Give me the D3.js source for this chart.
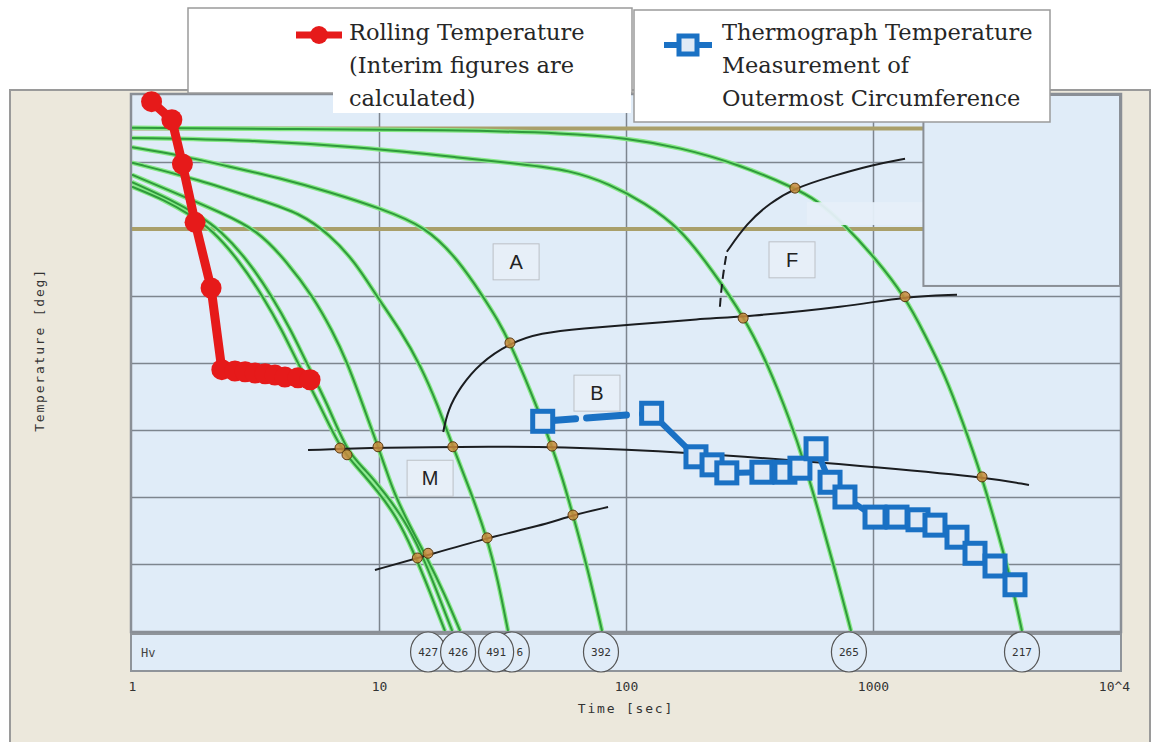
<!DOCTYPE html>
<html>
<head>
<meta charset="utf-8">
<script src="https://cdn.jsdelivr.net/npm/d3@7"></script>
<style>
  body { margin: 0; background: #fff; }
</style>
</head>
<body>
<div id="chart"></div>
<script>
// CCT diagram with rolling / thermograph temperatures

const width = 1159;
const height = 742;

// ---- data (time in sec, temperature in deg) ----
const timeTicks = [1, 10, 100, 1000, 10000];
const timeTickLabels = ["1", "10", "100", "1000", "10^4"];
const tempGrid = [100, 200, 300, 400, 500, 600, 700];
const acTemps = [750, 600];

const rollTime = [1.2, 1.45, 1.6, 1.8, 2.09, 2.31, 2.61, 2.87, 3.15, 3.46, 3.79, 4.16, 4.7, 5.26];
const rollTemp = [790, 763, 697, 610, 512, 390, 388, 387, 385, 384, 382, 379, 378, 375];

const thermoTime = [46, 127, 192, 223, 256, 355, 440, 506, 588, 670, 770, 1019, 1251, 1521, 1782, 2188, 2588, 3119, 3757];
const thermoTemp = [313, 325, 260, 248, 236, 237, 237, 243, 272, 222, 200, 170, 170, 166, 158, 140, 116, 97, 69];

const cool1Time = [1, 1.36, 1.72, 2.11, 2.74, 3.39, 4.05, 4.66, 5.77, 6.95, 8.22, 9.91, 11.8, 13.7, 16.1, 18.5];
const cool1Temp = [663, 643, 621, 599, 551, 499, 449, 402, 337, 273, 243, 208, 170, 121, 58, 0];
const cool2Time = [1, 1.45, 1.85, 2.27, 2.98, 3.69, 4.40, 5.06, 6.22, 7.42, 8.86, 10.6, 12.6, 14.8, 17.2, 19.8];
const cool2Temp = [670, 643, 621, 599, 551, 499, 449, 402, 337, 267, 240, 205, 167, 118, 58, 0];
const cool3Time = [1, 1.56, 2.27, 3.21, 4.24, 5.41, 6.45, 7.42, 8.61, 9.91, 10.7, 11.5, 13.4, 15.6, 18.5, 21.3];
const cool3Temp = [681, 651, 625, 599, 551, 499, 449, 402, 337, 275, 240, 206, 155, 110, 54, 0];
const cool4Time = [1, 1.89, 3.30, 4.79, 6.34, 7.99, 9.82, 12.2, 14.7, 17.3, 19.9, 23.4, 27.4, 30.3, 33.3];
const cool4Temp = [699, 673, 643, 624, 591, 551, 499, 449, 397, 337, 275, 210, 139, 76, 0];
const cool5Time = [1, 1.56, 2.49, 3.97, 6.34, 10.1, 15.6, 20.9, 26.4, 30.3, 33.9, 40.9, 50.2, 55.6, 61.0, 70.2, 80.0];
const cool5Temp = [722, 710, 693, 676, 655, 631, 603, 554, 499, 464, 430, 360, 276, 225, 173, 91, 0];
const cool6Time = [1, 3.0, 8.6, 21.9, 37.2, 59.4, 86, 119, 165, 223, 303, 376, 461, 531, 599, 702, 815];
const cool6Temp = [736, 733, 722, 706, 697, 688, 667, 639, 602, 539, 467, 397, 315, 248, 181, 91, 0];
const cool7Time = [1, 4.8, 19.4, 59, 99, 165, 289, 483, 593, 756, 1019, 1348, 1624, 1956, 2293, 2763, 3268, 3654, 4011];
const cool7Temp = [751, 749, 748, 743, 736, 722, 696, 661, 643, 609, 557, 499, 442, 382, 315, 230, 136, 69, 0];

// transformation lines
const msTime = [5.16, 10, 30.9, 50.2, 165, 1019, 2763, 4281];
const msTemp = [270, 274, 275, 275, 268, 245, 230, 218];
const bfTime = [9.63, 14.7, 27.4, 44.9, 61.0, 84.6];
const bfTemp = [91, 110, 139, 157, 173, 185];
const bsTime = [18.2, 19.0, 21.3, 25.6, 33.9, 44.9, 67, 107, 199, 303, 785, 1348, 2188];
const bsTemp = [297, 330, 364, 400, 430, 445, 452, 457, 466, 469, 484, 499, 502];
const fsDashTime = [240, 245, 256];
const fsDashTemp = [484, 524, 566];
const fsTime = [256, 309, 383, 483, 670, 1000, 1348];
const fsTemp = [566, 609, 639, 661, 678, 696, 705];

const markTime = [6.95, 7.42, 9.91, 19.9, 50.2, 2763, 14.3, 15.8, 27.4, 61.0, 33.9, 298, 1348, 483];
const markTemp = [273, 263, 275, 275, 276, 230, 109, 116, 139, 173, 430, 467, 499, 661];

const regionNames = ["A", "B", "M", "F"];
const regionTime = [35.9, 76.3, 16.1, 470];
const regionTemp = [551, 355, 228, 554];

// Hv values; the one behind "491" only shows its last digit
const hvValues = ["427", "426", "6", "491", "392", "265", "217"];
const hvTime = [15.8, 20.9, 34.5, 29.8, 79.2, 799, 4011];

// ---- scales ----
const x = d3.scaleLog().domain([1, 10000]).range([132, 1120]);
const y = d3.scaleLinear().domain([0, 800]).range([631, 95]);
const zip = (a, b) => a.map((v, i) => [v, b[i]]);

const svg = d3.select("#chart")
  .append("svg")
  .attr("width", width)
  .attr("height", height)
  .style("font-family", "DejaVu Sans Mono");

// outer beige frame
svg.append("rect")
  .attr("x", 10).attr("y", 90)
  .attr("width", 1140).attr("height", 670)
  .attr("fill", "#ece8dc")
  .attr("stroke", "#9a9a9a").attr("stroke-width", 2);

// plot background
svg.append("rect")
  .attr("x", x(1) - 1).attr("y", y(800) - 1)
  .attr("width", x(10000) - x(1) + 2).attr("height", y(0) - y(800) + 2)
  .attr("fill", "#e0ecf8")
  .attr("stroke", "#8a8f96").attr("stroke-width", 2.5);

svg.append("defs").append("clipPath").attr("id", "plotclip")
  .append("rect")
  .attr("x", x(1)).attr("y", y(800))
  .attr("width", x(10000) - x(1)).attr("height", y(0) - y(800));

// grid lines
svg.append("g")
  .attr("transform", `translate(${x(1)},0)`)
  .call(d3.axisLeft(y).tickValues(tempGrid).tickSize(-(x(10000) - x(1))).tickFormat(""))
  .call(g => g.select(".domain").remove())
  .selectAll("line").attr("stroke", "#7d858e").attr("stroke-width", 1.5);

svg.append("g")
  .attr("transform", `translate(0,${y(0)})`)
  .call(d3.axisBottom(x).tickValues([10, 100, 1000]).tickSize(-(y(0) - y(800))).tickFormat(""))
  .call(g => g.select(".domain").remove())
  .selectAll("line").attr("stroke", "#7d858e").attr("stroke-width", 1.5);

// Ac3 / Ac1 lines
svg.append("g").selectAll("line")
  .data(acTemps)
  .join("line")
    .attr("x1", x(1)).attr("x2", x(1600))
    .attr("y1", d => y(d)).attr("y2", d => y(d))
    .attr("stroke", "#a99f6a").attr("stroke-width", 4);

// cooling curves
const coolingCurves = [
  zip(cool1Time, cool1Temp), zip(cool2Time, cool2Temp), zip(cool3Time, cool3Temp),
  zip(cool4Time, cool4Temp), zip(cool5Time, cool5Temp), zip(cool6Time, cool6Temp),
  zip(cool7Time, cool7Temp)
];
const smooth = d3.line().x(d => x(d[0])).y(d => y(d[1])).curve(d3.curveBasis);

const curves = svg.append("g").attr("clip-path", "url(#plotclip)");
curves.selectAll(".glow")
  .data(coolingCurves)
  .join("path")
    .attr("class", "glow")
    .attr("d", smooth)
    .attr("fill", "none")
    .attr("stroke", "#86e886").attr("stroke-width", 4.5);
curves.selectAll(".core")
  .data(coolingCurves)
  .join("path")
    .attr("class", "core")
    .attr("d", smooth)
    .attr("fill", "none")
    .attr("stroke", "#2f9a3c").attr("stroke-width", 2);

// transformation start / finish lines
const blackLines = [zip(msTime, msTemp), zip(bfTime, bfTemp), zip(bsTime, bsTemp), zip(fsTime, fsTemp)];
svg.append("g").selectAll("path")
  .data(blackLines)
  .join("path")
    .attr("d", smooth)
    .attr("fill", "none")
    .attr("stroke", "#1b1d20").attr("stroke-width", 2);

svg.append("path")
  .attr("d", smooth(zip(fsDashTime, fsDashTemp)))
  .attr("fill", "none")
  .attr("stroke", "#1b1d20").attr("stroke-width", 2)
  .attr("stroke-dasharray", "9,5");

// intersection marks
svg.append("g").selectAll("circle")
  .data(zip(markTime, markTemp))
  .join("circle")
    .attr("cx", d => x(d[0])).attr("cy", d => y(d[1]))
    .attr("r", 5)
    .attr("fill", "#c98a3c").attr("fill-opacity", 0.85)
    .attr("stroke", "#5a3b12").attr("stroke-width", 1);

// light band and right panel
svg.append("rect")
  .attr("x", x(540)).attr("y", y(640))
  .attr("width", x(1600) - x(540)).attr("height", y(606) - y(640))
  .attr("fill", "#e6eff9").attr("fill-opacity", 0.95);

svg.append("rect")
  .attr("x", x(1600)).attr("y", y(800))
  .attr("width", x(10000) - x(1600)).attr("height", y(515) - y(800))
  .attr("fill", "#e0ecf8")
  .attr("stroke", "#8a8f96").attr("stroke-width", 2);

// region labels
const regions = svg.append("g").selectAll("g")
  .data(regionNames)
  .join("g")
    .attr("transform", (d, i) => `translate(${x(regionTime[i])},${y(regionTemp[i])})`);
regions.append("rect")
  .attr("x", -23).attr("y", -18).attr("width", 46).attr("height", 36)
  .attr("fill", "#e7eff8").attr("stroke", "#bcc0c6").attr("stroke-width", 1);
regions.append("text")
  .attr("text-anchor", "middle").attr("dy", "0.36em")
  .style("font-family", "Liberation Sans, Arial, sans-serif")
  .style("font-size", "20px")
  .attr("fill", "#222")
  .text(d => d);

// thermograph series
const blue = "#1a71c4";
const thermo = zip(thermoTime, thermoTemp);
const straight = d3.line().x(d => x(d[0])).y(d => y(d[1]));
svg.append("path")
  .attr("d", straight(thermo.slice(0, 2)))
  .attr("fill", "none").attr("stroke", blue).attr("stroke-width", 7)
  .attr("stroke-linecap", "round")
  .attr("stroke-dasharray", "33,11,40,16,80");
svg.append("path")
  .attr("d", straight(thermo.slice(1)))
  .attr("fill", "none").attr("stroke", blue).attr("stroke-width", 6)
  .attr("stroke-linejoin", "round");
svg.append("g").selectAll("rect")
  .data(thermo)
  .join("rect")
    .attr("x", d => x(d[0]) - 10).attr("y", d => y(d[1]) - 10)
    .attr("width", 20).attr("height", 20)
    .attr("fill", "#dfeaf6")
    .attr("stroke", blue).attr("stroke-width", 5);

// rolling series
const red = "#e61a1a";
const roll = zip(rollTime, rollTemp);
svg.append("path")
  .attr("d", straight(roll))
  .attr("fill", "none").attr("stroke", red).attr("stroke-width", 9)
  .attr("stroke-linejoin", "round");
svg.append("g").selectAll("circle")
  .data(roll)
  .join("circle")
    .attr("cx", d => x(d[0])).attr("cy", d => y(d[1]))
    .attr("r", 10.5)
    .attr("fill", red);

// legends
svg.append("rect")
  .attr("x", 188).attr("y", 8).attr("width", 444).attr("height", 85)
  .attr("fill", "#fff").attr("stroke", "#9a9a9a").attr("stroke-width", 1.5);
svg.append("rect")
  .attr("x", 333).attr("y", 9).attr("width", 298).attr("height", 104)
  .attr("fill", "#fff");
svg.append("rect")
  .attr("x", 634).attr("y", 10).attr("width", 416).attr("height", 112)
  .attr("fill", "#fff").attr("stroke", "#9a9a9a").attr("stroke-width", 1.5);

svg.append("line")
  .attr("x1", 296).attr("x2", 342).attr("y1", 35).attr("y2", 35)
  .attr("stroke", red).attr("stroke-width", 7);
svg.append("circle").attr("cx", 319).attr("cy", 35).attr("r", 9).attr("fill", red);

svg.append("line")
  .attr("x1", 664).attr("x2", 712).attr("y1", 45).attr("y2", 45)
  .attr("stroke", blue).attr("stroke-width", 6);
svg.append("rect")
  .attr("x", 679).attr("y", 36).attr("width", 18).attr("height", 18)
  .attr("fill", "#dfeaf6").attr("stroke", blue).attr("stroke-width", 5);

const legendText = [
  {x: 349, lines: ["Rolling Temperature", "(Interim figures are", "calculated)"]},
  {x: 722, lines: ["Thermograph Temperature", "Measurement of", "Outermost Circumference"]}
];
legendText.forEach(l => {
  svg.append("g").selectAll("text")
    .data(l.lines)
    .join("text")
      .attr("x", l.x).attr("y", (d, i) => 40 + i * 33)
      .style("font-family", "DejaVu Serif, serif")
      .style("font-size", "22.5px")
      .attr("fill", "#262626")
      .text(d => d);
});

// Hv band
svg.append("rect")
  .attr("x", x(1) - 1).attr("y", 634)
  .attr("width", x(10000) - x(1) + 2).attr("height", 37)
  .attr("fill", "#e0ecf8")
  .attr("stroke", "#8f949a").attr("stroke-width", 2);
svg.append("text")
  .attr("x", 141).attr("y", 657)
  .style("font-size", "12px").attr("fill", "#444")
  .text("Hv");

const hv = svg.append("g").selectAll("g")
  .data(hvValues)
  .join("g")
    .attr("transform", (d, i) => `translate(${x(hvTime[i])},652)`);
hv.append("ellipse")
  .attr("rx", 17.5).attr("ry", 20)
  .attr("fill", "#e0ecf8")
  .attr("stroke", "#555").attr("stroke-width", 1.2);
hv.append("text")
  .attr("text-anchor", "middle").attr("dy", "0.35em")
  .attr("dx", d => d.length < 3 ? 8 : 0)   // partly hidden label sits on the visible side
  .style("font-size", "11px").attr("fill", "#333")
  .text(d => d);

// x axis labels
svg.append("g")
  .attr("transform", "translate(0,682)")
  .call(d3.axisBottom(x).tickValues(timeTicks).tickSize(0).tickPadding(0)
          .tickFormat((d, i) => timeTickLabels[i]))
  .call(g => g.select(".domain").remove())
  .selectAll("text")
    .style("font-family", "DejaVu Sans Mono")
    .style("font-size", "13px")
    .attr("fill", "#333")
    .attr("dx", (d, i) => i === timeTicks.length - 1 ? -6 : 0);

svg.append("text")
  .attr("x", x(100)).attr("y", 713)
  .attr("text-anchor", "middle")
  .style("font-size", "13px").style("letter-spacing", "1.8px")
  .attr("fill", "#333")
  .text("Time [sec]");

svg.append("text")
  .attr("transform", "translate(44,350) rotate(-90)")
  .attr("text-anchor", "middle")
  .style("font-size", "13px").style("letter-spacing", "1.8px")
  .attr("fill", "#333")
  .text("Temperature [deg]");
</script>
</body>
</html>
